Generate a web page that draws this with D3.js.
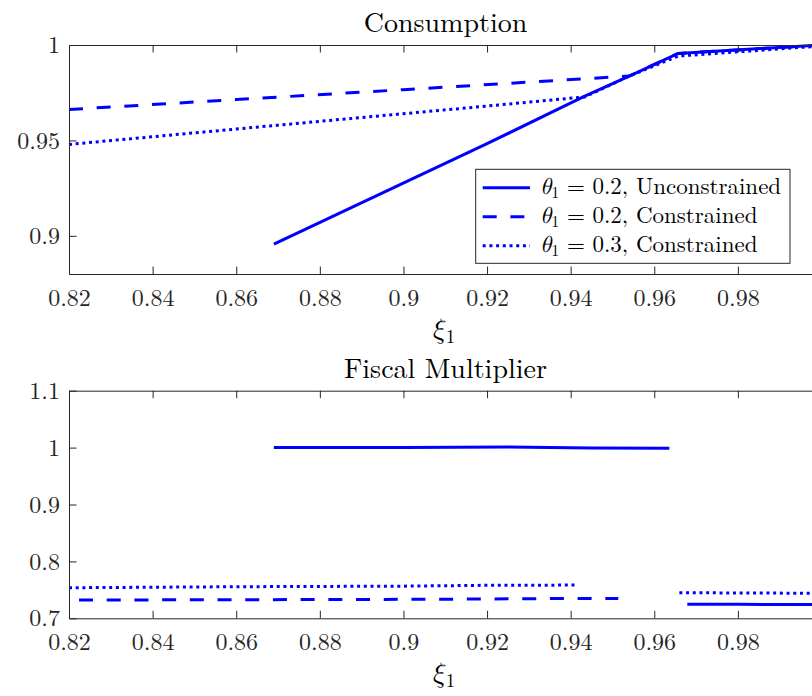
<!DOCTYPE html>
<html>
<head>
<meta charset="utf-8">
<script src="https://cdn.jsdelivr.net/npm/d3@7"></script>
</head>
<body style="margin:0; background:#fff">
<div id="chart"></div>
<script>
// chart values
var xTicks = [0.82, 0.84, 0.86, 0.88, 0.9, 0.92, 0.94, 0.96, 0.98, 1];
var yTicksTop = [0.9, 0.95, 1];
var yTicksBottom = [0.7, 0.8, 0.9, 1, 1.1];

var seriesNames = ["Unconstrained", "Constrained", "Constrained"];
var seriesTheta = ["0.2", "0.2", "0.3"];

// consumption panel
var xiConsUnc = [0.869, 0.92, 0.943, 0.954, 0.9657, 1.0];
var consUnc   = [0.8956, 0.9483, 0.9728, 0.9837, 0.9956, 1.0];
var xiConsC02 = [0.82, 0.86, 0.9, 0.954, 0.9657, 1.0];
var consC02   = [0.9662, 0.9714, 0.9766, 0.9837, 0.9956, 1.0];
var xiConsC03 = [0.82, 0.88, 0.92, 0.9434, 0.954, 0.9657, 1.0];
var consC03   = [0.9479, 0.9600, 0.9680, 0.9728, 0.9837, 0.9942, 0.9995];

// fiscal multiplier panel (null = gap)
var xiMultUnc = [0.869, 0.9, 0.925, 0.945, 0.9636, 0.966, 0.9679, 0.98, 1.0];
var multUnc   = [1.0, 1.0, 1.001, 0.9995, 0.999, null, 0.7248, 0.7245, 0.724];
var xiMultC02 = [0.8224, 0.85, 0.88, 0.91, 0.93, 0.9514];
var multC02   = [0.7322, 0.7325, 0.733, 0.7335, 0.7345, 0.735];
var xiMultC03 = [0.82, 0.86, 0.9, 0.92, 0.9415, 0.95, 0.966, 0.98, 1.0];
var multC03   = [0.7537, 0.7555, 0.7565, 0.758, 0.7584, null, 0.745, 0.7445, 0.744];

var svgWidth = 812;
var svgHeight = 696;
var FONT = '"Latin Modern Roman", "CMU Serif", "Liberation Serif", serif';
var MATH = '"Latin Modern Math", "Latin Modern Roman", "CMU Serif", serif';
var INK = "#262626";

var styles = [
  {dash: null},
  {dash: "14,13.7"},
  {dash: "3,3.7"}
];

var svg = d3.select("#chart")
  .append("svg")
    .attr("width", svgWidth)
    .attr("height", svgHeight);

var x = d3.scaleLinear().domain([0.82, 1.0]).range([69, 821.5]);
var fmt = d => String(+d.toFixed(2));
// the label at 1 sits past the right edge of the figure
var fmtX = d => d >= 1 ? "" : fmt(d);

function drawPanel(opts) {
  var y = d3.scaleLinear().domain(opts.yDomain).range([opts.bottom, opts.top]);
  var g = svg.append("g");

  // lines
  var line = d3.line()
    .defined(d => d[1] != null)
    .x(d => x(d[0]))
    .y(d => y(d[1]));

  opts.series.forEach(function(s, i) {
    var pts = s.xs.map((v, j) => [v, s.ys[j]]);
    g.append("path")
      .datum(pts)
      .attr("d", line)
      .attr("fill", "none")
      .attr("stroke", "#0000ff")
      .attr("stroke-width", 3)
      .attr("stroke-dasharray", styles[i].dash);
  });

  // axes, ticks pointing inward
  var bottomAxis = d3.axisBottom(x).tickValues(xTicks).tickFormat(fmtX)
    .tickSizeInner(-7.5).tickSizeOuter(0).tickPadding(15);
  var topAxis = d3.axisTop(x).tickValues(xTicks).tickFormat("")
    .tickSizeInner(-7.5).tickSizeOuter(0);
  var leftAxis = d3.axisLeft(y).tickValues(opts.yTicks).tickFormat(fmt)
    .tickSizeInner(-7.5).tickSizeOuter(0).tickPadding(9);
  var rightAxis = d3.axisRight(y).tickValues(opts.yTicks).tickFormat("")
    .tickSizeInner(-7.5).tickSizeOuter(0);

  var axes = [
    g.append("g").attr("transform", `translate(0,${opts.bottom})`).call(bottomAxis),
    g.append("g").attr("transform", `translate(0,${opts.top})`).call(topAxis),
    g.append("g").attr("transform", `translate(69,0)`).call(leftAxis),
    g.append("g").attr("transform", `translate(821.5,0)`).call(rightAxis)
  ];
  axes.forEach(function(a) {
    a.attr("font-family", null).attr("font-size", null);
    a.selectAll("path, line").attr("stroke", INK).attr("stroke-width", 1);
    a.selectAll("text")
      .style("font-family", FONT)
      .style("font-size", "24px")
      .attr("fill", INK);
  });

  // title
  g.append("text")
    .attr("x", 445.5)
    .attr("y", opts.top - 13)
    .attr("text-anchor", "middle")
    .attr("fill", "#000")
    .style("font-family", FONT)
    .style("font-size", "28px")
    .text(opts.title);

  // x label: xi_1
  var xl = g.append("text")
    .attr("x", 443)
    .attr("y", opts.bottom + 64)
    .attr("text-anchor", "middle")
    .attr("fill", "#000")
    .style("font-family", MATH)
    .style("font-size", "28px");
  xl.append("tspan").style("font-style", "italic").text("ξ");
  xl.append("tspan").style("font-family", FONT).style("font-size", "19px").attr("dy", 5).text("1");

  return g;
}

drawPanel({
  top: 45, bottom: 274, yDomain: [0.88, 1], yTicks: yTicksTop,
  title: "Consumption",
  series: [
    {xs: xiConsUnc, ys: consUnc},
    {xs: xiConsC02, ys: consC02},
    {xs: xiConsC03, ys: consC03}
  ]
});

drawPanel({
  top: 390.7, bottom: 618.3, yDomain: [0.7, 1.1], yTicks: yTicksBottom,
  title: "Fiscal Multiplier",
  series: [
    {xs: xiMultUnc, ys: multUnc},
    {xs: xiMultC02, ys: multC02},
    {xs: xiMultC03, ys: multC03}
  ]
});

// legend in the consumption panel
var legend = svg.append("g");
legend.append("rect")
  .attr("x", 475.7).attr("y", 169.3)
  .attr("width", 314.3).attr("height", 94)
  .attr("fill", "#fff")
  .attr("stroke", INK)
  .attr("stroke-width", 1);

seriesNames.forEach(function(name, i) {
  var rowY = 187.7 + i * 29;
  legend.append("line")
    .attr("x1", 482.7).attr("x2", 530)
    .attr("y1", rowY).attr("y2", rowY)
    .attr("stroke", "#0000ff")
    .attr("stroke-width", 3)
    .attr("stroke-dasharray", styles[i].dash);
  var t = legend.append("text")
    .attr("x", 540)
    .attr("y", rowY + 6)
    .attr("fill", "#000")
    .style("font-family", FONT)
    .style("font-size", "23px");
  t.append("tspan").style("font-family", MATH).style("font-style", "italic").text("θ");
  t.append("tspan").style("font-size", "16px").attr("dy", 4).text("1");
  t.append("tspan").attr("dy", -4).text(" = " + seriesTheta[i] + ", " + name);
});
</script>
</body>
</html>
